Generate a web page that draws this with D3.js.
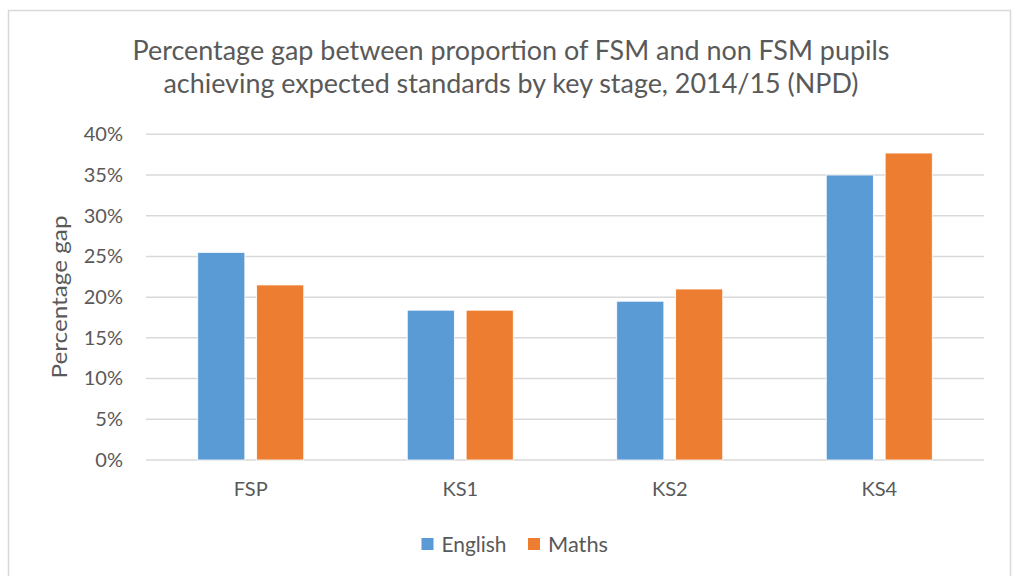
<!DOCTYPE html>
<html>
<head>
<meta charset="utf-8">
<script src="https://cdn.jsdelivr.net/npm/d3@7"></script>
<style>
  html, body { margin: 0; padding: 0; background: #fff; }
  svg { display: block; }
  text { font-family: Lato, "Open Sans", sans-serif; fill: #595959; }
</style>
</head>
<body>
<svg id="chart" width="1017" height="576"></svg>
<script>
const categories = ["FSP", "KS1", "KS2", "KS4"];
const seriesNames = ["English", "Maths"];
const english = [0.255, 0.184, 0.195, 0.350];
const maths = [0.215, 0.184, 0.210, 0.377];
const yTicks = [0, 0.05, 0.10, 0.15, 0.20, 0.25, 0.30, 0.35, 0.40];
const titleLines = [
  "Percentage gap between proportion of FSM and non FSM pupils",
  "achieving expected standards by key stage, 2014/15 (NPD)"
];
const yTitle = "Percentage gap";
const colors = ["#5B9BD5", "#ED7D31"];

const seriesValues = [english, maths];
const data = categories.map((c, i) => ({
  cat: c,
  vals: seriesNames.map((s, j) => ({ s, v: seriesValues[j][i], j }))
}));

const svg = d3.select("#chart");

// chart border
svg.append("rect")
  .attr("x", 8.5).attr("y", 10.5)
  .attr("width", 1002).attr("height", 580)
  .attr("fill", "#fff").attr("stroke", "#d9d9d9").attr("stroke-width", 1.5);

const plotLeft = 146, plotRight = 984, plotTop = 134.3, plotBottom = 460;

const x0 = d3.scaleBand().domain(categories).range([plotLeft, plotRight])
  .paddingInner(0.494).paddingOuter(0.247);
const x1 = d3.scaleBand().domain(seriesNames).range([0, x0.bandwidth()])
  .paddingInner(0.2);
const y = d3.scaleLinear().domain([0, 0.4]).range([plotBottom, plotTop]);

// gridlines
svg.append("g").selectAll("line").data(yTicks).join("line")
  .attr("x1", plotLeft).attr("x2", plotRight)
  .attr("y1", d => y(d)).attr("y2", d => y(d))
  .attr("stroke", "#d9d9d9").attr("stroke-width", 1.5);

// y axis labels
const yAxis = svg.append("g").attr("transform", `translate(${plotLeft},0)`)
  .call(d3.axisLeft(y).tickValues(yTicks).tickFormat(d3.format(".0%")).tickSize(0).tickPadding(23));
yAxis.select(".domain").remove();
yAxis.selectAll("text").attr("font-size", 20).attr("fill", "#595959")
  .attr("font-family", "Lato, 'Open Sans', sans-serif");

// bars
const groups = svg.append("g").selectAll("g").data(data).join("g")
  .attr("transform", d => `translate(${x0(d.cat)},0)`);
groups.selectAll("rect").data(d => d.vals).join("rect")
  .attr("x", d => x1(d.s))
  .attr("width", x1.bandwidth())
  .attr("y", d => y(d.v))
  .attr("height", d => y(0) - y(d.v))
  .attr("fill", d => colors[d.j])
  .attr("stroke", "#fff").attr("stroke-width", 0.8);

// x axis labels
const xAxis = svg.append("g").attr("transform", `translate(0,${plotBottom})`)
  .call(d3.axisBottom(x0).tickSize(0).tickPadding(22));
xAxis.select(".domain").remove();
xAxis.selectAll("text").attr("font-size", 20).attr("fill", "#595959")
  .attr("font-family", "Lato, 'Open Sans', sans-serif");

// title
const titleLens = [757, 695];
svg.append("g").selectAll("text").data(titleLines).join("text")
  .attr("x", 511).attr("y", (d, i) => 60 + i * 33)
  .attr("text-anchor", "middle")
  .attr("font-size", 26)
  .attr("textLength", (d, i) => titleLens[i])
  .attr("lengthAdjust", "spacingAndGlyphs")
  .text(d => d);

// y axis title
svg.append("text")
  .attr("transform", "translate(67,297) rotate(-90)")
  .attr("text-anchor", "middle")
  .attr("font-size", 22)
  .attr("textLength", 163)
  .attr("lengthAdjust", "spacingAndGlyphs")
  .text(yTitle);

// legend
const legend = svg.append("g");
const legendX = [421.5, 528];
const legendLens = [65, 60];
seriesNames.forEach((s, i) => {
  legend.append("rect").attr("x", legendX[i]).attr("y", 538)
    .attr("width", 12).attr("height", 12).attr("fill", colors[i]);
  legend.append("text").attr("x", legendX[i] + 20).attr("y", 552)
    .attr("font-size", 21)
    .attr("textLength", legendLens[i])
    .attr("lengthAdjust", "spacingAndGlyphs")
    .text(s);
});
</script>
</body>
</html>
